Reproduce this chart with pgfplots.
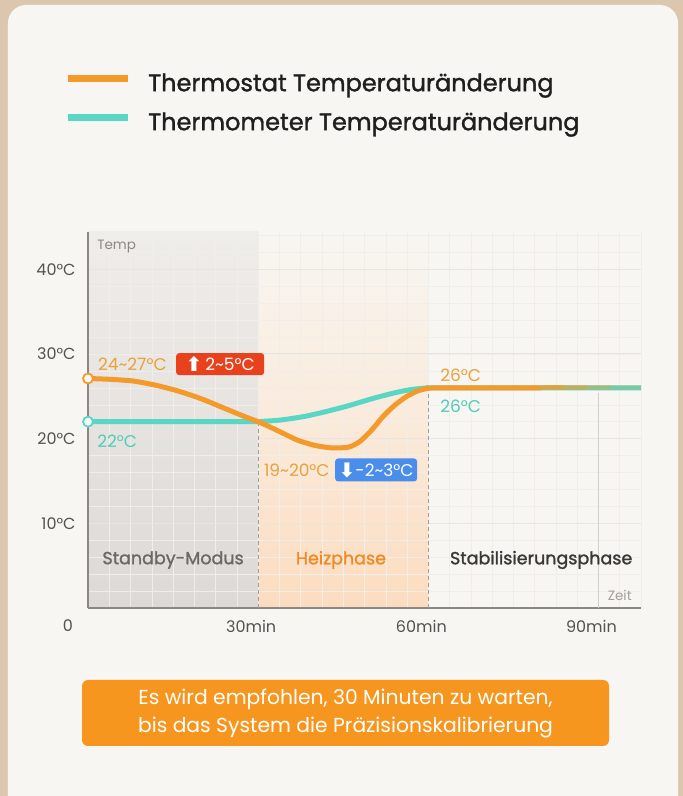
\documentclass[border=0pt]{standalone}
\usepackage{pgfplots}
\pgfplotsset{compat=1.18}
\usepackage{fontspec}
\setmainfont{Poppins}
\newfontfamily\pmed[FakeBold=1.4]{Poppins}
\newfontfamily\dejavu{DejaVu Sans}
\definecolor{bgout}{HTML}{DCC7AE}
\definecolor{card}{HTML}{F8F6F2}
\definecolor{orl}{HTML}{F39A2B}
\definecolor{orlab}{HTML}{E9A23B}
\definecolor{tealc}{HTML}{5AD6C4}
\definecolor{tealab}{HTML}{4FCDBA}
\definecolor{redb}{HTML}{E8411E}
\definecolor{blueb}{HTML}{4A8DEB}
\definecolor{axgray}{HTML}{8A8785}
\definecolor{gridc}{HTML}{E8E5E1}
\definecolor{gridm}{HTML}{F1EEEA}
\definecolor{boxor}{HTML}{F7961F}
\definecolor{graybot}{HTML}{DCD9D6}
\definecolor{graytop}{HTML}{EFEDEA}
\definecolor{peach}{HTML}{FCDCBF}
\definecolor{ticktxt}{HTML}{555351}
\definecolor{ph1}{HTML}{6B6866}
\definecolor{ph2}{HTML}{F08A24}
\definecolor{ph3}{HTML}{3A3836}
\pgfdeclarelayer{cardlayer}
\pgfplotsset{layers/mine/.define layer set={cardlayer, axis background, axis grid, axis ticks, axis lines, axis tick labels, main, axis descriptions, axis foreground}{}}
\begin{document}
\begin{tikzpicture}
\begin{axis}[
  at={(88bp,188bp)}, anchor=south west,
  scale only axis, width=553bp, height=376bp,
  xmin=0, xmax=97.5, ymin=0, ymax=44.4,
  set layers=mine, clip=false,
  axis x line*=bottom, axis y line*=left,
  axis line style={axgray, line width=1.2bp, -},
  major tick length=0pt, minor tick length=0pt,
  xtick={30,60,90}, xticklabels={30min,60min,90min},
  ytick={10,20,30,40}, yticklabels={10°C,20°C,30°C,40°C},
  minor xtick={3.75,7.5,...,97.5},
  minor ytick={2,4,...,44},
  xmajorgrids=false, ymajorgrids=true, xminorgrids=true, yminorgrids=true,
  major grid style={gridc, line width=1bp},
  minor grid style={gridm, line width=0.5bp},
  tick label style={font=\fontsize{16bp}{19bp}\selectfont, text=ticktxt},
  xticklabel style={xshift=-7bp, yshift=-9bp},
  yticklabel style={xshift=-9bp},
  legend style={at={(-0.0434,1.4201)}, anchor=north west, draw=none, fill=none,
    font=\pmed\fontsize{24bp}{28bp}\selectfont, text=black!88,
    row sep=17bp, inner sep=0pt,
    nodes={inner sep=0pt, text height=17bp, text depth=5bp},
    /tikz/every odd column/.append style={column sep=17bp}},
  legend cell align=left,
  legend image code/.code={\draw[#1, line width=7bp, line cap=butt] (0bp,7bp) -- (60bp,7bp);},
]
\begin{pgfonlayer}{cardlayer}
\fill[bgout] (rel axis cs:-0.1592,-0.5) rectangle (rel axis cs:1.0760,1.6170);
\fill[card, rounded corners=18bp] (rel axis cs:-0.1447,-0.5798) rectangle (rel axis cs:1.0669,1.6037);
\end{pgfonlayer}
\addlegendimage{orl}
\addlegendentry{Thermostat Temperaturänderung}
\addlegendimage{tealc}
\addlegendentry{Thermometer Temperaturänderung}

% shaded phase regions
\addplot[draw=none, top color=graytop, bottom color=graybot, on layer=axis background, forget plot]
  coordinates {(0,0)(0,44.4)(30,44.4)(30,0)(0,0)};
\addplot[draw=none, top color=card, bottom color=peach, middle color=peach!45!card, on layer=axis background, forget plot]
  coordinates {(30,0)(30,44.4)(60,44.4)(60,0)(30,0)};

% separators
\addplot[axgray!80, line width=0.9bp, dash pattern=on 4bp off 3bp, forget plot]
  coordinates {(30,0)(30,22)};
\addplot[axgray!80, line width=0.9bp, dash pattern=on 4bp off 3bp, forget plot]
  coordinates {(60,0)(60,26)};
\addplot[gridc!80!gray, line width=1bp, forget plot]
  coordinates {(90,0)(90,25.4)};

% thermometer
\addplot[tealc, line width=5bp, smooth, tension=0.4, forget plot]
  coordinates {(0,22)(28,22)(31,22.05)(34,22.2)(38,22.6)(42,23.2)(46,23.9)(50,24.7)(54,25.4)(57,25.8)(60,26)(62,26)(97.5,26)};
% thermostat
\addplot[orl, line width=5bp, smooth, tension=0.4, forget plot]
  coordinates {(0,27.1)(4,27.0)(8,26.8)(12,26.3)(16,25.6)(20,24.7)(24,23.6)(28,22.5)(30,22.0)(32,21.4)(34.5,20.6)(37,19.8)(40,19.2)(43,18.9)(46,19.0)(48,19.7)(50,21.0)(52,22.6)(54,23.9)(56,24.9)(58,25.6)(60,25.95)(62,26)(70,26)(80,26)};
\addplot[orl, opacity=0.8, line width=5bp, line cap=butt, forget plot] coordinates {(80,26)(84,26)};
\addplot[orl, opacity=0.6, line width=5bp, line cap=butt, forget plot] coordinates {(84,26)(88,26)};
\addplot[orl, opacity=0.4, line width=5bp, line cap=butt, forget plot] coordinates {(88,26)(92,26)};
\addplot[orl, opacity=0.2, line width=5bp, line cap=butt, forget plot] coordinates {(92,26)(97.5,26)};

% start markers
\addplot[only marks, mark=*, mark size=5bp, mark options={fill=card, draw=orl, line width=1.8bp}, forget plot]
  coordinates {(0,27.1)};
\addplot[only marks, mark=*, mark size=5bp, mark options={fill=card, draw=tealc, line width=1.8bp}, forget plot]
  coordinates {(0,22)};

% annotations
\node[anchor=west, text=orlab, font=\fontsize{17bp}{20bp}\selectfont, inner sep=0] at (axis cs:1.76,28.8) {24\textasciitilde27°C};
\node[fill=redb, rounded corners=3bp, text=white, minimum width=88bp, minimum height=22bp, inner sep=0,
  font=\fontsize{17bp}{20bp}\selectfont] at (axis cs:23.3,28.8) {\raisebox{-1bp}{\dejavu\bfseries\fontsize{20bp}{20bp}\selectfont ⬆}\,2\textasciitilde5°C};
\node[anchor=west, text=orlab, font=\fontsize{17bp}{20bp}\selectfont, inner sep=0] at (axis cs:62.1,27.5) {26°C};
\node[anchor=west, text=tealab, font=\fontsize{17bp}{20bp}\selectfont, inner sep=0] at (axis cs:62.1,23.85) {26°C};
\node[anchor=west, text=tealab, font=\fontsize{17bp}{20bp}\selectfont, inner sep=0] at (axis cs:1.6,19.7) {22°C};
\node[anchor=west, text=orlab, font=\fontsize{17bp}{20bp}\selectfont, inner sep=0] at (axis cs:31.0,16.3) {19\textasciitilde20°C};
\node[fill=blueb, rounded corners=3bp, text=white, minimum width=82bp, minimum height=23bp, inner sep=0,
  font=\fontsize{17bp}{20bp}\selectfont] at (axis cs:50.8,16.3) {\raisebox{-1bp}{\dejavu\bfseries\fontsize{20bp}{20bp}\selectfont ⬇}-2\textasciitilde3°C};

\node[text=ph1, font=\pmed\fontsize{17.5bp}{20bp}\selectfont] at (axis cs:15.0,5.67) {Standby-Modus};
\node[text=ph2, font=\pmed\fontsize{17.5bp}{20bp}\selectfont] at (axis cs:44.6,5.67) {Heizphase};
\node[text=ph3, font=\pmed\fontsize{17.5bp}{20bp}\selectfont] at (axis cs:79.9,5.67) {Stabilisierungsphase};

\node[anchor=west, text=axgray, font=\fontsize{13.5bp}{16bp}\selectfont, inner sep=0] at (axis cs:1.6,42.7) {Temp};
\node[anchor=east, text=axgray!80, font=\fontsize{13.5bp}{16bp}\selectfont, inner sep=0] at (axis cs:95.9,1.53) {Zeit};
\end{axis}
\node[text=ticktxt, font=\fontsize{16bp}{19bp}\selectfont] at (68bp,170bp) {0};
\node[fill=boxor, rounded corners=6bp, minimum width=527bp, minimum height=66bp, inner sep=0] at (345.5bp,83bp) {};
\node[text=white, align=center, font=\fontsize{20.3bp}{28bp}\selectfont] at (345.5bp,83bp)
  {Es wird empfohlen, 30 Minuten zu warten,\\bis das System die Präzisionskalibrierung};
\pgfresetboundingbox
\useasboundingbox (0,0) rectangle (683bp,796bp);
\end{tikzpicture}
\end{document}
